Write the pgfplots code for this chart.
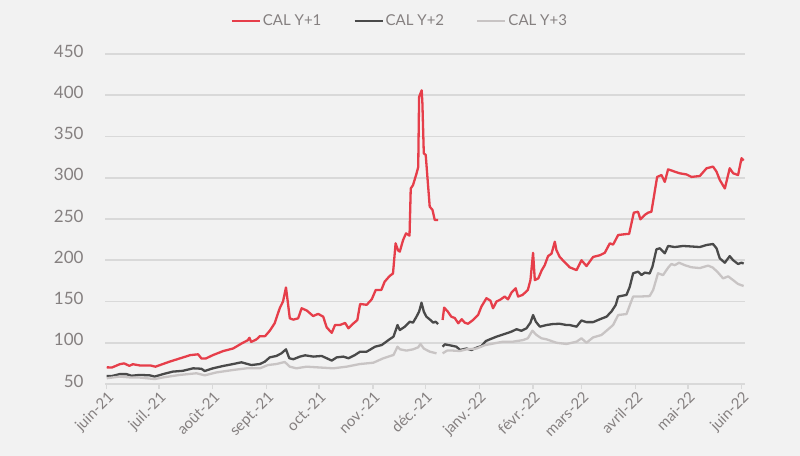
\documentclass[border=0pt]{standalone}
\usepackage{pgfplots}
\pgfplotsset{compat=1.18}
\usepackage{fontspec}
\setmainfont{Lato}
\definecolor{bgc}{HTML}{F2F2F2}
\definecolor{gridc}{HTML}{D9D9D9}
\definecolor{txtc}{HTML}{858080}
\definecolor{cred}{HTML}{E63E4A}
\definecolor{cdark}{HTML}{4A4A4A}
\definecolor{clight}{HTML}{C8C4C4}
\begin{document}
\begin{tikzpicture}
\fill[bgc] (0,0) rectangle (800bp,456bp);
\begin{axis}[
  at={(105bp,72bp)}, anchor=south west,
  scale only axis, width=639.5bp, height=330bp,
  xmin=-1, xmax=366.5, ymin=50, ymax=450,
  ytick={50,100,...,450},
  xtick={0,30,61,92,122,153,183,214,245,273,304,334,365},
  xticklabels={juin-21,juil.-21,août-21,sept.-21,oct.-21,nov.-21,déc.-21,janv.-22,févr.-22,mars-22,avril-22,mai-22,juin-22},
  /pgf/number format/assume math mode=true,
  axis line style={draw=none},
  ymajorgrids, grid style={gridc, line width=1.6bp},
  ytick style={draw=none},
  xtick pos=lower, tick align=outside, major tick length=5bp,
  xtick style={gridc, line width=1.2bp},
  yticklabel style={font=\fontsize{17bp}{17bp}\selectfont, text=txtc, xshift=-13bp, yshift=3bp},
  xticklabel style={font=\fontsize{15bp}{15bp}\selectfont, text=txtc, rotate=45, anchor=north east, inner sep=1bp},
  unbounded coords=jump,
  legend columns=3,
  legend style={at={(0.461,1.1)}, anchor=center, draw=none, fill=none, text=txtc,
    font=\fontsize{15bp}{15bp}\selectfont,
    /tikz/every even column/.append style={column sep=30bp}},
  legend image code/.code={\draw[#1] (0bp,0bp) -- (28bp,0bp);},
  every axis plot/.append style={line width=2.3bp, line join=round},
]
\addplot[cred] coordinates {
(0,70.2) (3,70) (7.5,74) (10,75) (13,72) (15,74) (19,72.5) (25,72.5) (28,71) (32,74) (36,77) (42,81) (48,85) (52.5,86) (54.4,81) (57,81) (61,85) (67,90) (72.6,93) (77.4,99) (81,103) (82,106) (83,101) (86,104) (88,108) (91,108) (93.7,114.6) (96.5,123.6) (99.4,141.8) (101.3,150) (103,167) (104.3,145) (105.2,129.6) (107.2,128) (110,129.6) (112,141.8) (115,139) (118.6,132.4) (121.5,135) (124.4,131.6) (126.4,118.6) (129.3,112) (131.2,121.5) (134,121.5) (137,124) (138.9,117.5) (141.8,123.5) (144,127.5) (145.6,147) (149.4,146) (152.3,152.7) (154.6,164) (157.8,164) (159.7,174) (162.6,181) (164.5,184) (166,220.5) (167.4,212) (168.4,210.4) (170.3,224.5) (172,232.6) (174,229.8) (174.7,287) (176,291) (178,305) (179,313) (179.5,398) (181,406) (181.4,390) (182.2,329.6) (183.3,327.6) (185.6,265) (187.2,261) (188.5,248.8) (190.4,248.8)
(191.5,nan)
(193,127.6) (193.9,142.6) (196,137.7) (198,131.6) (200,130) (202,123.6) (204,128.5) (205.7,124.4) (207.6,123) (210.5,127.6) (213.4,133.6) (215.3,143.8) (218.2,154) (220.5,151) (222,141.8) (224,150) (226,152) (228.7,156) (230.6,152.6) (232.6,160.8) (235,166) (236.4,156) (239,158) (242,164) (243.5,176) (245,209) (246,176) (248,178) (250,188) (251.7,194) (253.6,205) (255.6,208) (257.5,222.5) (258.4,212.4) (260.3,204) (263,198) (266,191.5) (270,188) (272.8,200) (275.7,193) (279.5,204) (283.3,206) (286.2,209) (289.1,220.5) (291,219) (293.9,230.6) (298.7,231.8) (300.2,232) (302.9,257.7) (305.3,258.8) (306.7,249.6) (309.2,255) (311.1,257.7) (313,258.8) (316.3,301) (318.8,303.3) (320.7,295) (322.6,310.2) (326.4,307.4) (329.3,305.4) (333.2,304) (336,301) (340.8,302.1) (344.7,311.5) (348.4,313.5) (350.4,307.5) (352.3,297.3) (355.2,287) (358,311.5) (360,305.4) (362.8,303.3) (364.8,323.7) (366,320.8)
};
\addlegendentry{CAL Y+1}
\addplot[cdark] coordinates {
(0,59.7) (3,59.7) (7.5,62) (11.3,62) (14.2,60) (19,61) (24.7,60.5) (27.6,59) (32.4,62) (38,65) (43.8,66) (49.6,69) (54.4,68.5) (56.3,65.7) (61,69) (66.8,71.8) (72.6,74.2) (77.4,76.3) (83.1,73) (88,74.2) (90.8,77) (93.7,82.3) (97.5,84) (100.4,87.2) (103,92) (104.9,81.2) (107.2,80) (111,83.2) (114,84.8) (118.7,83.2) (123.5,84) (126.4,81.2) (129.3,78.4) (132.2,82.3) (136,83.2) (138.9,81.2) (142.7,85.2) (145.6,89.2) (149.4,89.2) (154.2,95.2) (158.1,97.3) (161.9,103.3) (164.8,107.4) (167.1,121.5) (168.4,115.4) (171.3,119.5) (174.1,125.5) (176,124.4) (178,131.6) (179.5,137.7) (180.9,148.6) (182.2,137.7) (183.7,131.6) (186,127.6) (187.6,124.4) (189,125.5) (190.4,122.7)
(191.5,nan)
(193,95.2) (194.3,98.1) (197,97) (201,95.2) (203,91.2) (206.7,93) (209.6,91.2) (212.5,94) (215.3,96) (217.8,102) (220,104) (224,107.4) (226.8,109.4) (229.7,111.4) (232.6,113.5) (235.5,116.4) (238.3,114.5) (241.2,117.5) (243.5,124.4) (245,133.6) (246.6,125.5) (248.9,119.5) (252.7,121.5) (256.5,122.7) (260.3,123) (264.2,121.5) (266,121.5) (270,119.5) (272.8,127) (275.7,125) (279.5,125) (283.3,128.4) (287.2,131.6) (290,137.7) (292.5,145.8) (293.9,156) (298.7,158) (300.6,168) (302.5,184.2) (305.3,186.2) (307.3,182.1) (309.2,185) (312,184) (313.6,192.2) (315.9,213.3) (317.8,214.5) (320.7,208.4) (322.6,217.3) (326.4,216) (331.2,217.3) (336,216.7) (340.8,216) (344.7,218.5) (348.4,219.7) (350.4,214.5) (352.3,202.3) (355.2,197) (358,205) (360,200) (362.8,195.5) (364.8,197) (366,196)
};
\addlegendentry{CAL Y+2}
\addplot[clight] coordinates {
(0,57) (7.5,59) (13.2,58) (19,57.8) (27.6,56) (32.4,58) (42,61) (51.5,63) (56.3,60.5) (63,64) (72.6,67) (80.3,69) (88,69) (92.7,73) (97.5,74.2) (102.3,76.7) (105.2,71) (109,69) (114.8,71) (122.5,70) (130.2,69) (137.8,71) (145.5,74.2) (153.2,75.8) (159,81.2) (164.8,85.2) (167.1,95.2) (168.6,92) (172.2,90.5) (176,92) (179,94.5) (180.3,98.5) (182.2,93) (185.6,89.2) (189.5,87.2)
(191.5,nan)
(193,87.2) (195.6,90.5) (199,90.5) (203,90) (206.7,92) (212.5,93) (217.2,97) (222,99) (227.8,101.3) (233.5,101.3) (239.3,103.3) (242,105.4) (244.6,114.6) (247,109.4) (249.8,105.4) (252.7,104.2) (258.4,100) (264.2,98.5) (270,101.3) (272.8,105.4) (275.7,100) (279.5,106.5) (284.3,109.4) (287.2,114.6) (291,121.5) (293.9,133.6) (298.7,134.8) (301,147.8) (302.5,156) (306.3,156) (312,156.6) (314,164) (316.8,184.2) (319.7,182) (322.6,191) (324.5,195.5) (326.4,194) (328.9,197) (332.2,194) (336,191.5) (340.8,190.5) (345.6,193.5) (348.4,191) (351.3,185) (354.2,178) (357.1,180.5) (359.9,176) (362.8,171.2) (366,168.8)
};
\addlegendentry{CAL Y+3}
\end{axis}
\pgfresetboundingbox
\useasboundingbox (0,0) rectangle (800bp,456bp);
\end{tikzpicture}
\end{document}
